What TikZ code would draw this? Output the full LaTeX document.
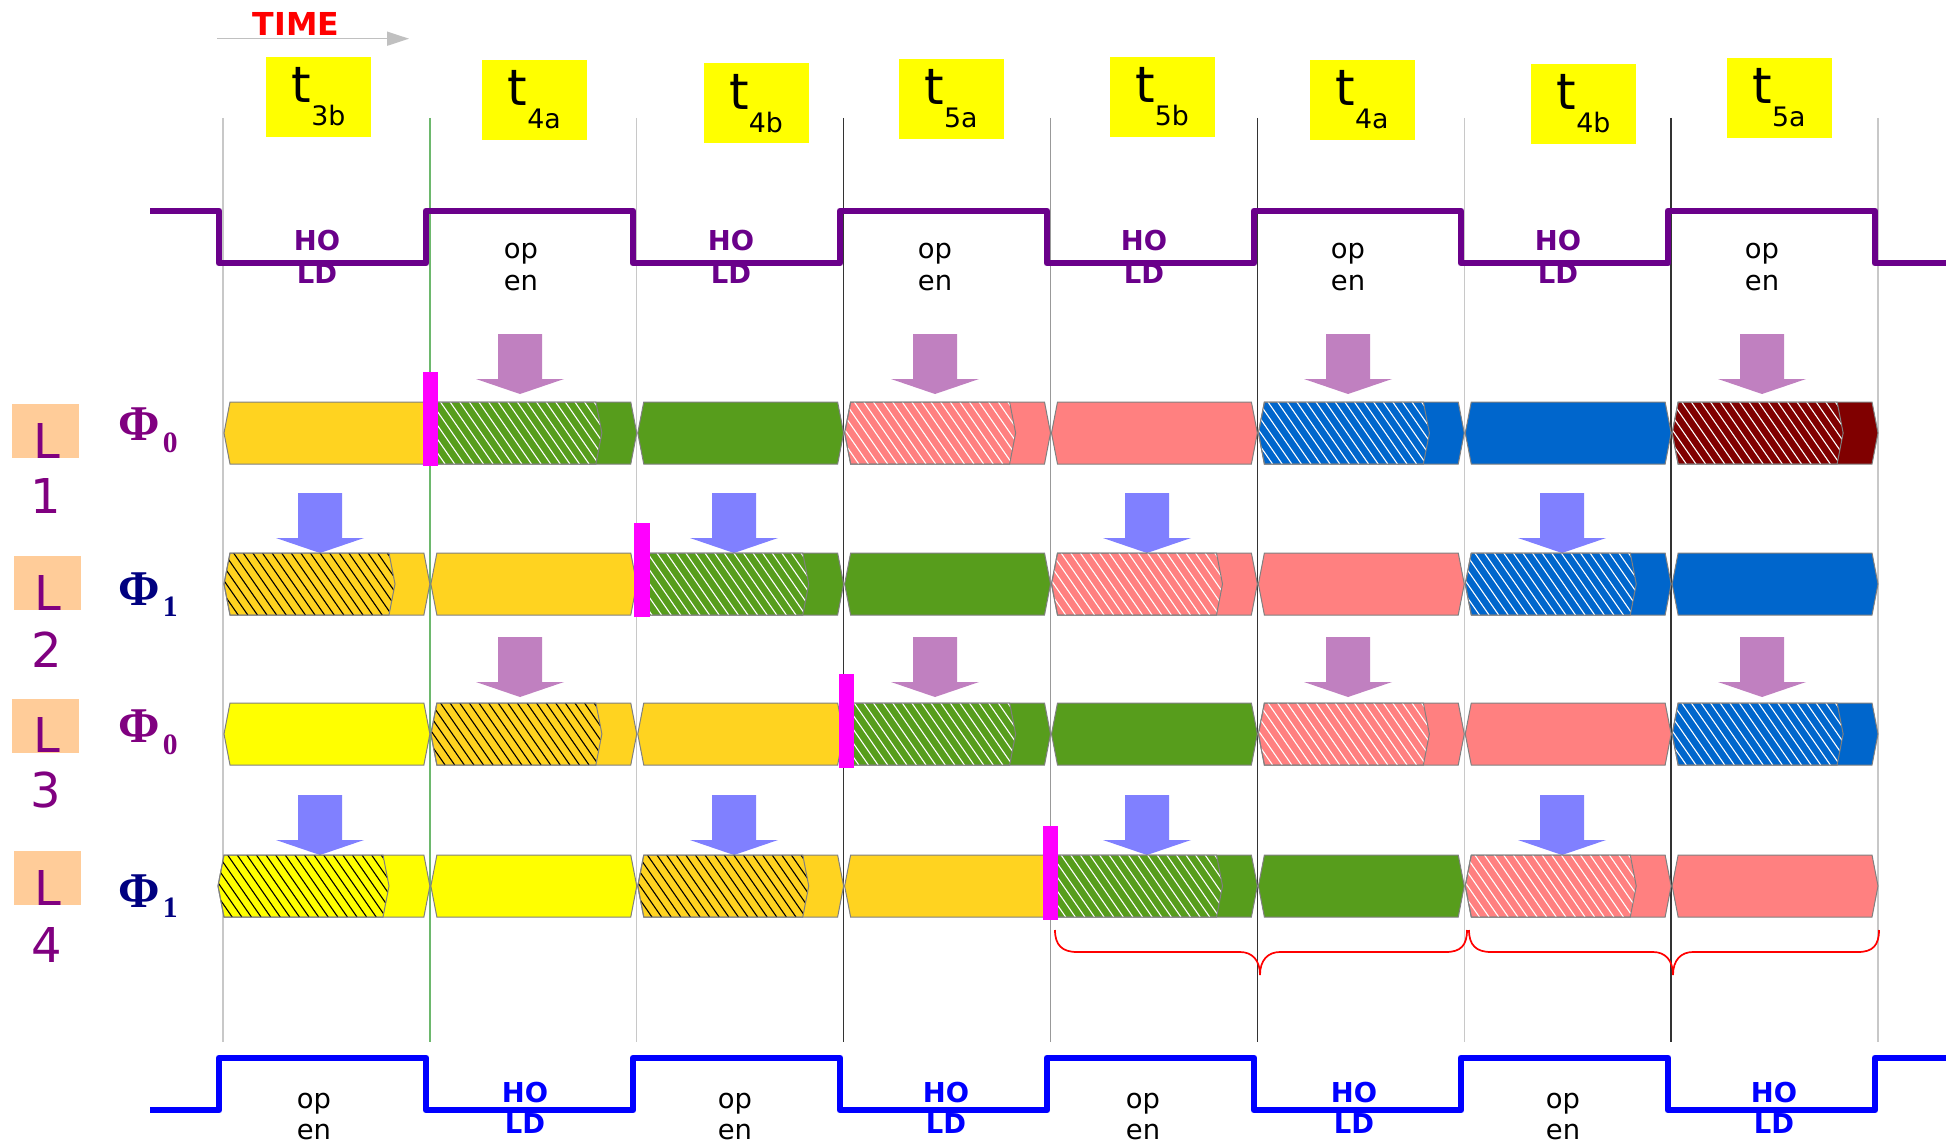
\documentclass[tikz,border=0pt]{standalone}
\usepackage{fontspec}
\setmainfont{DejaVu Sans}
\newfontfamily\phifont{Liberation Serif}
\usetikzlibrary{arrows.meta}
\definecolor{Or}{HTML}{FFD320}
\definecolor{Gr}{HTML}{579D1C}
\definecolor{Sa}{HTML}{FF8080}
\definecolor{Bl}{HTML}{0066CC}
\definecolor{Dr}{HTML}{800000}
\definecolor{Yl}{HTML}{FFFF00}
\definecolor{cellgray}{HTML}{808080}
\definecolor{clkP}{HTML}{6A008A}
\definecolor{clkB}{HTML}{0000FF}
\definecolor{labP}{HTML}{800080}
\definecolor{labN}{HTML}{000080}
\definecolor{peach}{HTML}{FFCC99}
\definecolor{arrP}{HTML}{C080C0}
\definecolor{arrB}{HTML}{8080FF}
\definecolor{mag}{HTML}{FF00FF}
\definecolor{lgray}{HTML}{C8C8C8}
\definecolor{mgray}{HTML}{999999}
\definecolor{dk}{HTML}{333333}
\definecolor{lgreen}{HTML}{6DB86D}
\definecolor{tgray}{HTML}{C0C0C0}
\tikzset{
  cellborder/.style={draw=cellgray, line width=0.5pt},
  tbox/.style={fill=Yl, minimum width=52.5pt, minimum height=40pt, inner sep=0pt},
  optext/.style={anchor=base, font=\fontsize{13.7}{16}\selectfont, text=black, inner sep=0pt},
  hoP/.style={anchor=base, font=\fontsize{13.7}{16}\selectfont\bfseries, text=clkP, inner sep=0pt},
  hoB/.style={anchor=base, font=\fontsize{13.7}{16}\selectfont\bfseries, text=clkB, inner sep=0pt},
  clkline/.style={line width=3.4pt, line join=round},
  lbox/.style={fill=peach, minimum width=33.5pt, minimum height=27pt, inner sep=0pt},
  ltext/.style={anchor=base, font=\fontsize{24}{24}\selectfont, text=labP, inner sep=0pt},
  phitext/.style={anchor=base west, font=\phifont\bfseries\fontsize{25}{25}\selectfont, inner sep=0pt},
  magbar/.style={fill=mag},
  bracel/.style={draw=red, line width=0.85pt},
}
\newcommand\tlab[1]{{\fontsize{25}{25}\selectfont t}{\fontsize{13.4}{13}\selectfont\raisebox{-11.4pt}{#1}}}
\newcommand\dnarrow[3]{% cx, tip y, colour
  \fill[#3] (#1-22,#2-60) -- (#1+22,#2-60) -- (#1+22,#2-15) -- (#1+44,#2-15) -- (#1,#2) -- (#1-44,#2-15) -- (#1-22,#2-15) -- cycle;}
\newcommand\cellrow[2]{%
 \foreach \i/\cc/\h/\lc in {#2} {%
   \pgfmathsetmacro\xa{224+206.875*\i-((#1==855)&&(\i==0))*6}%
   \pgfmathsetmacro\xb{223+206.875*(\i+1)}%
   \pgfmathsetmacro\xh{\xa+171}%
   \filldraw[cellborder, fill=\cc] (\xa,#1+31) -- (\xa+6,#1) -- (\xb-6,#1) -- (\xb,#1+31) -- (\xb-6,#1+62) -- (\xa+6,#1+62) -- cycle;
   \ifnum\h=1
     \begin{scope}
       \clip (\xa,#1+31) -- (\xa+6,#1) -- (\xh-6,#1) -- (\xh,#1+31) -- (\xh-6,#1+62) -- (\xa+6,#1+62) -- cycle;
       \foreach \k in {-5,...,18} \draw[draw=\lc, line width=0.55pt] (\xa+\k*9.6,#1) -- ++(43,62);
     \end{scope}
     \draw[cellborder] (\xa,#1+31) -- (\xa+6,#1) -- (\xh-6,#1) -- (\xh,#1+31) -- (\xh-6,#1+62) -- (\xa+6,#1+62) -- cycle;
   \fi
 }}
\begin{document}
\begin{tikzpicture}[x=0.5pt,y=-0.5pt]
\useasboundingbox (0,0) rectangle (1954,1145);
\fill[white] (0,0) rectangle (1954,1145);

% grid lines
\foreach \i/\col in {0/lgray,1/lgreen,2/lgray,3/dk,4/mgray,5/dk,6/lgray,7/dk,8/lgray} {
  \pgfmathsetmacro\xl{223+206.875*\i}
  \draw[draw=\col, line width=0.7pt] (\xl,118) -- (\xl,1042);
}

% TIME
\node[anchor=base, font=\fontsize{15.8}{16}\selectfont\bfseries, text=red, inner sep=0pt] (time) at (296,35.7) {TIME};
\coordinate (tA) at (217,38.7);
\coordinate (tB) at (409,38.7);
\draw[draw=tgray, line width=0.75pt, -{Triangle[length=11pt,width=7pt]}] (tA) -- (tB);

% time boxes
\node[tbox] (t1) at (318.5,97) {\tlab{3b}};
\node[tbox] (t2) at (534.3,100) {\tlab{4a}};
\node[tbox] (t3) at (756,103.5) {\tlab{4b}};
\node[tbox] (t4) at (951,99) {\tlab{5a}};
\node[tbox] (t5) at (1162,97) {\tlab{5b}};
\node[tbox] (t6) at (1362,100) {\tlab{4a}};
\node[tbox] (t7) at (1583.5,104) {\tlab{4b}};
\node[tbox] (t8) at (1779,98) {\tlab{5a}};

% top clock texts
\foreach \x [count=\n] in {317,731,1144,1558} {
  \node[hoP] (hoP\n) at (\x,250) {HO};
  \node[hoP] (ldP\n) at (\x,283) {LD};
}
\foreach \x [count=\n] in {521,935,1348,1762} {
  \node[optext] (opP\n) at (\x,258) {op};
  \node[optext] (enP\n) at (\x,290) {en};
}
\draw[clkline, draw=clkP] (150,211) -| (219,263) -| (426,211) -| (633,263) -| (840,211) -| (1047,263) -| (1254,211) -| (1461,263) -| (1668,211) -| (1875,263) -- (1946,263);

% bottom clock texts
\foreach \x [count=\n] in {525,946,1354,1774} {
  \node[hoB] (hoB\n) at (\x,1102) {HO};
  \node[hoB] (ldB\n) at (\x,1133) {LD};
}
\foreach \x [count=\n] in {314,735,1143,1563} {
  \node[optext] (opB\n) at (\x,1108) {op};
  \node[optext] (enB\n) at (\x,1139) {en};
}
\draw[clkline, draw=clkB] (150,1110) -| (219,1058) -| (426,1110) -| (633,1058) -| (840,1110) -| (1047,1058) -| (1254,1110) -| (1461,1058) -| (1668,1110) -| (1875,1058) -- (1946,1058);

% arrows
\foreach \x in {520,935,1348,1762} { \dnarrow{\x}{394}{arrP} \dnarrow{\x}{697}{arrP} }
\foreach \x in {320,734,1147,1562} { \dnarrow{\x}{553}{arrB} \dnarrow{\x}{855}{arrB} }

% cell rows
\cellrow{402}{0/Or/0/black, 1/Gr/1/white, 2/Gr/0/black, 3/Sa/1/white, 4/Sa/0/black, 5/Bl/1/white, 6/Bl/0/black, 7/Dr/1/white}
\cellrow{553}{0/Or/1/black, 1/Or/0/black, 2/Gr/1/white, 3/Gr/0/black, 4/Sa/1/white, 5/Sa/0/black, 6/Bl/1/white, 7/Bl/0/black}
\cellrow{703}{0/Yl/0/black, 1/Or/1/black, 2/Or/0/black, 3/Gr/1/white, 4/Gr/0/black, 5/Sa/1/white, 6/Sa/0/black, 7/Bl/1/white}
\cellrow{855}{0/Yl/1/black, 1/Yl/0/black, 2/Or/1/black, 3/Or/0/black, 4/Gr/1/white, 5/Gr/0/black, 6/Sa/1/white, 7/Sa/0/black}

% magenta bars
\fill[magbar] (423,372) rectangle (438,466);
\fill[magbar] (634,523) rectangle (650,617);
\fill[magbar] (839,674) rectangle (854,768);
\fill[magbar] (1043,826) rectangle (1058,920);

% braces
\draw[bracel] (1055,930) .. controls (1055,945) and (1062,952) .. (1077,952) -- (1240,952) .. controls (1252,952) and (1260,960) .. (1260,975) .. controls (1260,960) and (1268,952) .. (1280,952) -- (1446,952) .. controls (1461,952) and (1467,945) .. (1467,930);
\draw[bracel] (1469,930) .. controls (1469,945) and (1476,952) .. (1491,952) -- (1653,952) .. controls (1665,952) and (1673,960) .. (1673,975) .. controls (1673,960) and (1681,952) .. (1693,952) -- (1858,952) .. controls (1873,952) and (1879,945) .. (1879,930);

% row labels
\node[lbox] (lb1) at (45.5,431) {};
\node[lbox] (lb2) at (47,583) {};
\node[lbox] (lb3) at (45.5,725.5) {};
\node[lbox] (lb4) at (47,878) {};
\node[ltext] (l1) at (47,458) {L};
\node[ltext] (n1) at (46,513) {1};
\node[ltext] (l2) at (48,610) {L};
\node[ltext] (n2) at (47,667) {2};
\node[ltext] (l3) at (47,752) {L};
\node[ltext] (n3) at (46,807) {3};
\node[ltext] (l4) at (48,905) {L};
\node[ltext] (n4) at (47,962) {4};

% phi labels
\node[phitext, text=labP] (p1) at (118,440) {Φ\kern1.5pt\raisebox{-6pt}{\fontsize{14.8}{15}\selectfont 0}};
\node[phitext, text=labN] (p2) at (118,605) {Φ\kern1.5pt\raisebox{-5.5pt}{\fontsize{14.8}{15}\selectfont 1}};
\node[phitext, text=labP] (p3) at (118,742) {Φ\kern1.5pt\raisebox{-6pt}{\fontsize{14.8}{15}\selectfont 0}};
\node[phitext, text=labN] (p4) at (118,907) {Φ\kern1.5pt\raisebox{-5pt}{\fontsize{14.8}{15}\selectfont 1}};
\end{tikzpicture}
\end{document}
